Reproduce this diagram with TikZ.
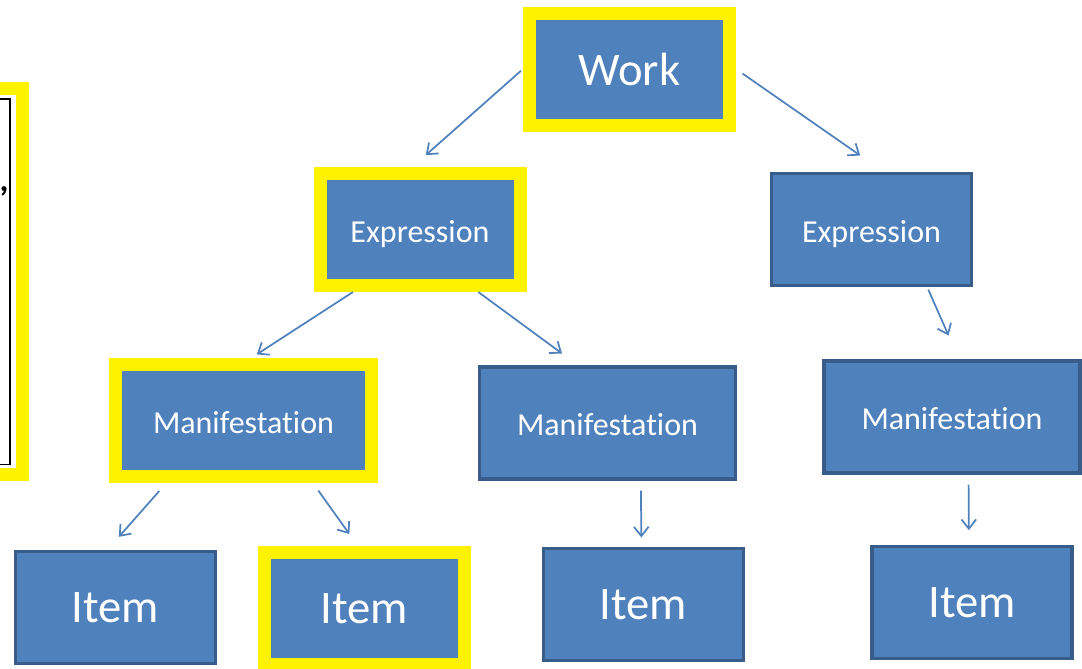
\documentclass[tikz,border=0pt]{standalone}
\usepackage{fontspec}
\setmainfont{Carlito}[Ligatures=NoCommon]
\usetikzlibrary{arrows.meta}
\definecolor{frbrblue}{HTML}{4F81BD}
\definecolor{frbrdark}{HTML}{385D8A}

\begin{document}
\begin{tikzpicture}[x=0.75pt, y=-0.75pt,
  entity/.style={fill=frbrblue, text=white, inner sep=0pt, minimum width=150pt, minimum height=84pt},
  wide/.style={minimum width=192pt},
  chosen/.style={draw=yellow, line width=9.75pt},
  other/.style={draw=frbrdark, line width=2.5pt},
  big/.style={font=\fontsize{35}{40}\selectfont},
  small/.style={font=\fontsize{24}{28}\selectfont, text height=19pt, text depth=0pt},
  link/.style={draw=frbrblue, line width=1.3pt, -{Straight Barb[length=7pt, width=11pt]}}]
\useasboundingbox (0,0) rectangle (1082,668);
\node[draw=yellow, line width=9.75pt, minimum width=167pt, minimum height=290pt, fill=white](note) at (-88.75,281.5){};
\node[draw=black, line width=1pt, minimum width=150pt, minimum height=274pt](notein) at (-90,281.5){};
\node[font=\fontsize{26}{30}\selectfont\bfseries, inner sep=0pt](mark) at (4,191){,};
\node[entity, chosen, big](work) at (629.5,69){Work};
\node[entity, chosen, small](exprL) at (420,229.5){Expression};
\node[entity, other, small](exprR) at (871.5,229.5){Expression};
\node[entity, wide, chosen, small](manL) at (243.5,420.5){Manifestation};
\node[entity, wide, other, small](manM) at (607.5,423){Manifestation};
\node[entity, wide, other, small](manR) at (952,417){Manifestation};
\node[entity, other, big](item1) at (115.5,607.5){Item};
\node[entity, chosen, big](item2) at (364.5,608.5){Item};
\node[entity, other, big](item3) at (643.5,604.5){Item};
\node[entity, other, big](item4) at (972,602.5){Item};
\draw[link, shorten <=2pt, shorten >=13.5pt](work.west) -- (exprL.97.7);
\draw[link, shorten <=6pt, shorten >=21.5pt](work.east) -- (exprR.78.7);
\draw[link, shorten >=5pt](exprL.223) -- (manL.83);
\draw[link, shorten >=15pt](exprL.313) -- (manM.117);
\draw[link, shorten <=2pt, shorten >=19.5pt](exprR.314) -- (manR.83.6);
\draw[link, shorten <=8pt, shorten >=13pt](manL.219.2) -- (item1.98);
\draw[link, shorten <=7pt, shorten >=11pt](manL.318.7) -- (item2.96.8);
\draw[link, shorten <=7.5pt, shorten >=7pt](manM.300) -- (item3.92.5);
\draw[link, shorten <=7.5pt, shorten >=11pt](manR.286.6) -- (item4.93);
\end{tikzpicture}
\end{document}
